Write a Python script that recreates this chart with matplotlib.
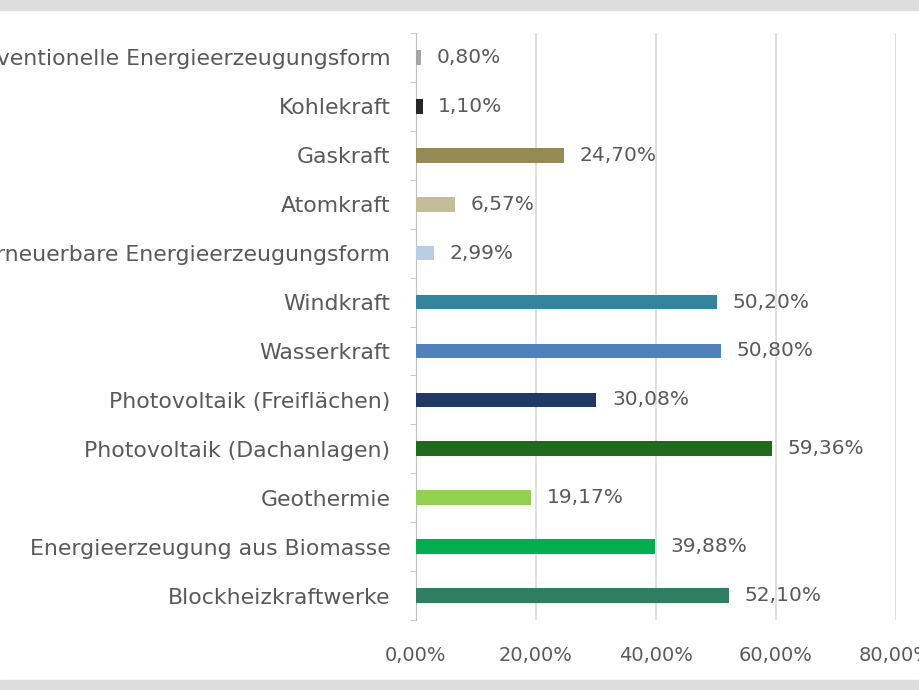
import matplotlib
matplotlib.use("Agg")
import matplotlib.pyplot as plt
from matplotlib.patches import Rectangle

# categories top -> bottom as shown in the chart
categories = ["Konventionelle Energieerzeugungsform", "Kohlekraft", "Gaskraft", "Atomkraft",
              "Erneuerbare Energieerzeugungsform", "Windkraft", "Wasserkraft",
              "Photovoltaik (Freiflächen)", "Photovoltaik (Dachanlagen)", "Geothermie",
              "Energieerzeugung aus Biomasse", "Blockheizkraftwerke"]
values = [0.80, 1.10, 24.70, 6.57, 2.99, 50.20, 50.80, 30.08, 59.36, 19.17, 39.88, 52.10]
value_labels = ["0,80%", "1,10%", "24,70%", "6,57%", "2,99%", "50,20%", "50,80%",
                "30,08%", "59,36%", "19,17%", "39,88%", "52,10%"]
colors = ["#A6A6A6", "#262626", "#948A54", "#C4BD97", "#B9CDE5", "#31859C", "#4F81BD",
          "#1F3864", "#1E6B1E", "#92D050", "#00B050", "#2E7F62"]
xticks = [0, 20, 40, 60, 80]
xtick_labels = ["0,00%", "20,00%", "40,00%", "60,00%", "80,00%"]

fig = plt.figure(figsize=(9.2, 6.9), dpi=100)
fig.patch.set_facecolor("white")

# axes placed so the long labels run off the left edge, like the screenshot
ax = fig.add_axes([416 / 920, 1 - 620 / 690, (896 - 416) / 920, (620 - 33) / 690])

y = list(range(len(categories)))
ax.barh(y, values, height=0.3, color=colors, zorder=3)

for yi, v, lab in zip(y, values, value_labels):
    ax.text(v + 2.6, yi, lab, va="center", ha="left", fontsize=14.5, color="#595959")

ax.set_yticks(y)
ax.set_yticklabels(categories, fontsize=15.8, color="#595959")
# excel style: tick marks sit between the categories
ax.set_yticks([i - 0.5 for i in range(len(categories) + 1)], minor=True)
ax.set_ylim(len(categories) - 0.5, -0.5)
ax.set_xlim(0, 80)
ax.set_xticks(xticks)
ax.set_xticklabels(xtick_labels, fontsize=14, color="#595959")

ax.grid(axis="x", color="#D9D9D9", linewidth=1.2, zorder=0)
for s in ["top", "right", "bottom"]:
    ax.spines[s].set_visible(False)
ax.spines["left"].set_color("#BFBFBF")
ax.tick_params(axis="y", which="major", length=0, pad=18.5)
ax.tick_params(axis="y", which="minor", length=4, color="#BFBFBF")
ax.tick_params(axis="x", length=0, pad=19)

# grey frame bands of the screenshot at top and bottom
fig.patches.append(Rectangle((0, 1 - 10 / 690), 1, 10 / 690, transform=fig.transFigure,
                             color="#DCDCDC", zorder=0))
fig.patches.append(Rectangle((0, 0), 1, 10 / 690, transform=fig.transFigure,
                             color="#DCDCDC", zorder=0))

fig.savefig("out.png", dpi=100)
